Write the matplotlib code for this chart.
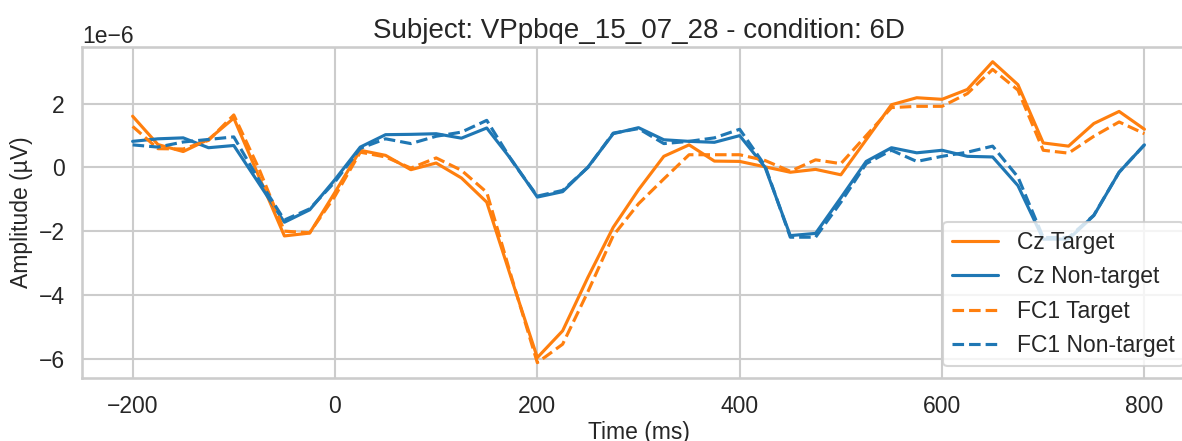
import numpy as np
import matplotlib
matplotlib.use("Agg")
import matplotlib.pyplot as plt
import seaborn as sns

# Time axis (ms), one sample every 25 ms
times = list(range(-200, 801, 25))

# Averaged amplitudes in microvolts
cz_target = [1.61, 0.72, 0.50, 0.88, 1.55, -0.30, -2.15, -2.06, -0.78, 0.54,
             0.38, -0.07, 0.14, -0.33, -1.09, -3.55, -5.97, -5.13, -3.45, -1.88,
             -0.70, 0.35, 0.71, 0.20, 0.19, 0.02, -0.15, -0.06, -0.23, 0.87,
             1.97, 2.19, 2.14, 2.45, 3.32, 2.60, 0.77, 0.67, 1.38, 1.76, 1.20]
cz_nontarget = [0.82, 0.90, 0.93, 0.62, 0.69, -0.51, -1.72, -1.33, -0.38, 0.64,
                1.03, 1.04, 1.06, 0.92, 1.24, 0.22, -0.93, -0.76, 0.01, 1.06,
                1.25, 0.87, 0.82, 0.79, 1.00, 0.01, -2.14, -2.07, -0.95, 0.19,
                0.62, 0.46, 0.54, 0.35, 0.33, -0.57, -2.25, -2.25, -1.51, -0.15, 0.71]
fc1_target = [1.29, 0.59, 0.58, 0.85, 1.65, -0.05, -2.00, -2.05, -0.90, 0.48,
              0.33, -0.02, 0.30, -0.09, -0.78, -3.50, -6.13, -5.55, -3.90, -2.14,
              -1.14, -0.36, 0.40, 0.40, 0.40, 0.22, -0.12, 0.24, 0.12, 1.00,
              1.88, 1.92, 1.92, 2.32, 3.08, 2.43, 0.54, 0.45, 0.98, 1.43, 1.06]
fc1_nontarget = [0.71, 0.64, 0.80, 0.88, 0.96, -0.40, -1.65, -1.30, -0.45, 0.60,
                 0.90, 0.75, 0.98, 1.11, 1.48, 0.20, -0.90, -0.72, 0.00, 1.08,
                 1.22, 0.75, 0.82, 0.93, 1.20, 0.06, -2.19, -2.19, -1.09, 0.12,
                 0.54, 0.19, 0.35, 0.48, 0.67, -0.30, -2.20, -2.20, -1.50, -0.15, 0.71]

series_labels = ["Cz Target", "Cz Non-target", "FC1 Target", "FC1 Non-target"]

sns.set_theme(style="whitegrid", context="talk")
plt.rcParams["font.family"] = ["Liberation Sans", "DejaVu Sans"]

fig = plt.figure(figsize=(11.82, 4.41), dpi=100)
ax = fig.add_axes([0.0694, 0.1435, 0.9416, 0.7506])

t = np.array(times)
scale = 1e-6
ax.plot(t, np.array(cz_target) * scale, color="#ff7f0e", linestyle="-", label=series_labels[0])
ax.plot(t, np.array(cz_nontarget) * scale, color="#1f77b4", linestyle="-", label=series_labels[1])
ax.plot(t, np.array(fc1_target) * scale, color="#ff7f0e", linestyle="--", label=series_labels[2])
ax.plot(t, np.array(fc1_nontarget) * scale, color="#1f77b4", linestyle="--", label=series_labels[3])

ax.set_title("Subject: VPpbqe_15_07_28 - condition: 6D", fontsize=20)
ax.set_xlabel("Time (ms)", fontsize=16.5, labelpad=2)
ax.set_ylabel("Amplitude (µV)", fontsize=16.5)
ax.set_xticks([-200, 0, 200, 400, 600, 800])
ax.legend(loc="lower right")

fig.savefig("out.png", dpi=100)
